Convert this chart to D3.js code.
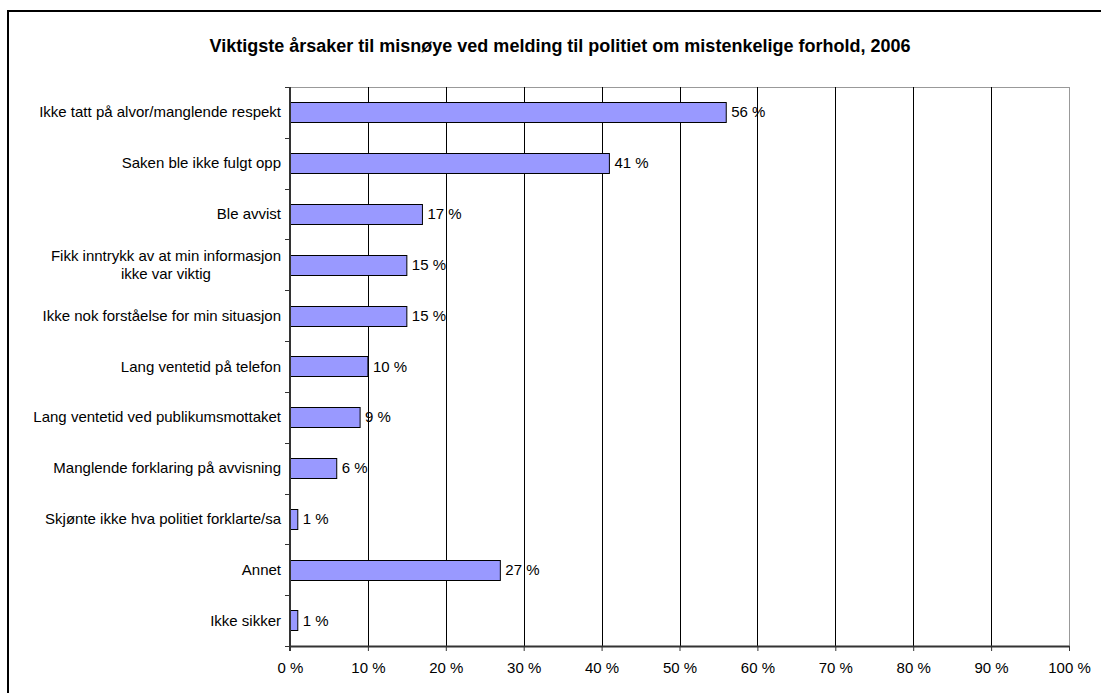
<!DOCTYPE html>
<html><head><meta charset="utf-8">
<script src="https://cdn.jsdelivr.net/npm/d3@7"></script>
<style>body{margin:0;background:#fff}svg{display:block;font-family:"Liberation Sans",Arial,sans-serif}</style>
</head><body>
<svg id="c" width="1101" height="693"></svg>
<script>
const title = "Viktigste årsaker til misnøye ved melding til politiet om mistenkelige forhold, 2006";
const categories = [
  "Ikke tatt på alvor/manglende respekt",
  "Saken ble ikke fulgt opp",
  "Ble avvist",
  "Fikk inntrykk av at min informasjon|ikke var viktig",
  "Ikke nok forståelse for min situasjon",
  "Lang ventetid på telefon",
  "Lang ventetid ved publikumsmottaket",
  "Manglende forklaring på avvisning",
  "Skjønte ikke hva politiet forklarte/sa",
  "Annet",
  "Ikke sikker"
];
const values = [56, 41, 17, 15, 15, 10, 9, 6, 1, 27, 1];
const xTicks = [0,10,20,30,40,50,60,70,80,90,100];

const svg = d3.select("#c");
const m = {left:290, right:1069, top:87, bottom:646};
const FS = 15;

// outer frame
svg.append("rect").attr("x",8).attr("y",11).attr("width",1110).attr("height",700)
  .attr("fill","#fff").attr("stroke","#000").attr("stroke-width",2);

svg.append("text").attr("x",560).attr("y",52).attr("text-anchor","middle")
  .attr("font-size",18).attr("font-weight","bold").text(title);

const x = d3.scaleLinear().domain([0,100]).range([m.left,m.right]);
const y = d3.scaleBand().domain(categories).range([m.top,m.bottom]).paddingInner(0.6).paddingOuter(0.3);

// plot border top/right grey
svg.append("line").attr("x1",m.left).attr("x2",m.right).attr("y1",m.top+0.5).attr("y2",m.top+0.5).attr("stroke","#999");
svg.append("line").attr("x1",m.right+0.5).attr("x2",m.right+0.5).attr("y1",m.top).attr("y2",m.bottom).attr("stroke","#999");

// gridlines
svg.append("g").selectAll("line").data(xTicks.filter(t=>t>0&&t<100)).join("line")
  .attr("x1",d=>Math.round(x(d))+0.5).attr("x2",d=>Math.round(x(d))+0.5)
  .attr("y1",m.top).attr("y2",m.bottom).attr("stroke","#000");

// bars
svg.append("g").selectAll("rect").data(values).join("rect")
  .attr("x",x(0)).attr("y",(d,i)=>Math.round(y(categories[i]))+0.5)
  .attr("width",d=>x(d)-x(0)).attr("height",Math.round(y.bandwidth()))
  .attr("fill","#9999FF").attr("stroke","#000").attr("stroke-width",1);

// value labels
svg.append("g").selectAll("text").data(values).join("text")
  .attr("x",d=>x(d)+5).attr("y",(d,i)=>y(categories[i])+y.bandwidth()/2+5)
  .attr("font-size",FS).text(d=>d+" %");

// x axis
const xAxis = d3.axisBottom(x).tickValues(xTicks).tickFormat(d=>d+" %").tickSize(5).tickSizeOuter(0);
const gx = svg.append("g").attr("transform",`translate(0,${m.bottom})`).call(xAxis);
gx.select(".domain").attr("stroke","#333").attr("stroke-width",2);
gx.selectAll(".tick line").attr("stroke","#333");
gx.selectAll(".tick text").attr("font-size",FS).attr("font-family","Liberation Sans, Arial, sans-serif")
  .attr("fill","#000").attr("y",27).attr("dy",0);

// y axis: line + ticks at band boundaries
const bounds = d3.range(categories.length+1).map(i=>m.top + i*(m.bottom-m.top)/categories.length);
svg.append("line").attr("x1",m.left).attr("x2",m.left).attr("y1",m.top).attr("y2",m.bottom+5).attr("stroke","#333").attr("stroke-width",2);
svg.append("g").selectAll("line").data(bounds).join("line")
  .attr("x1",m.left-5).attr("x2",m.left).attr("y1",d=>Math.round(d)+0.5).attr("y2",d=>Math.round(d)+0.5).attr("stroke","#333");

// category labels
const lab = svg.append("g").selectAll("text").data(categories).join("text")
  .attr("font-size",FS).attr("text-anchor","middle")
  .attr("transform",d=>`translate(0,${y(d)+y.bandwidth()/2})`);
lab.each(function(d){
  const parts = d.split("|");
  const t = d3.select(this);
  if(parts.length===1){
    t.append("tspan").attr("x",m.left-9).attr("text-anchor","end").attr("y",5).text(parts[0]);
  } else {
    const tmp = t.append("tspan").text(parts[0]);
    const w = this.getComputedTextLength();
    tmp.remove();
    const cx = m.left-9 - w/2;
    parts.forEach((p,k)=>{
      t.append("tspan").attr("x",cx).attr("y",5+(k-(parts.length-1)/2)*18).text(p);
    });
  }
});
</script>
</body></html>
